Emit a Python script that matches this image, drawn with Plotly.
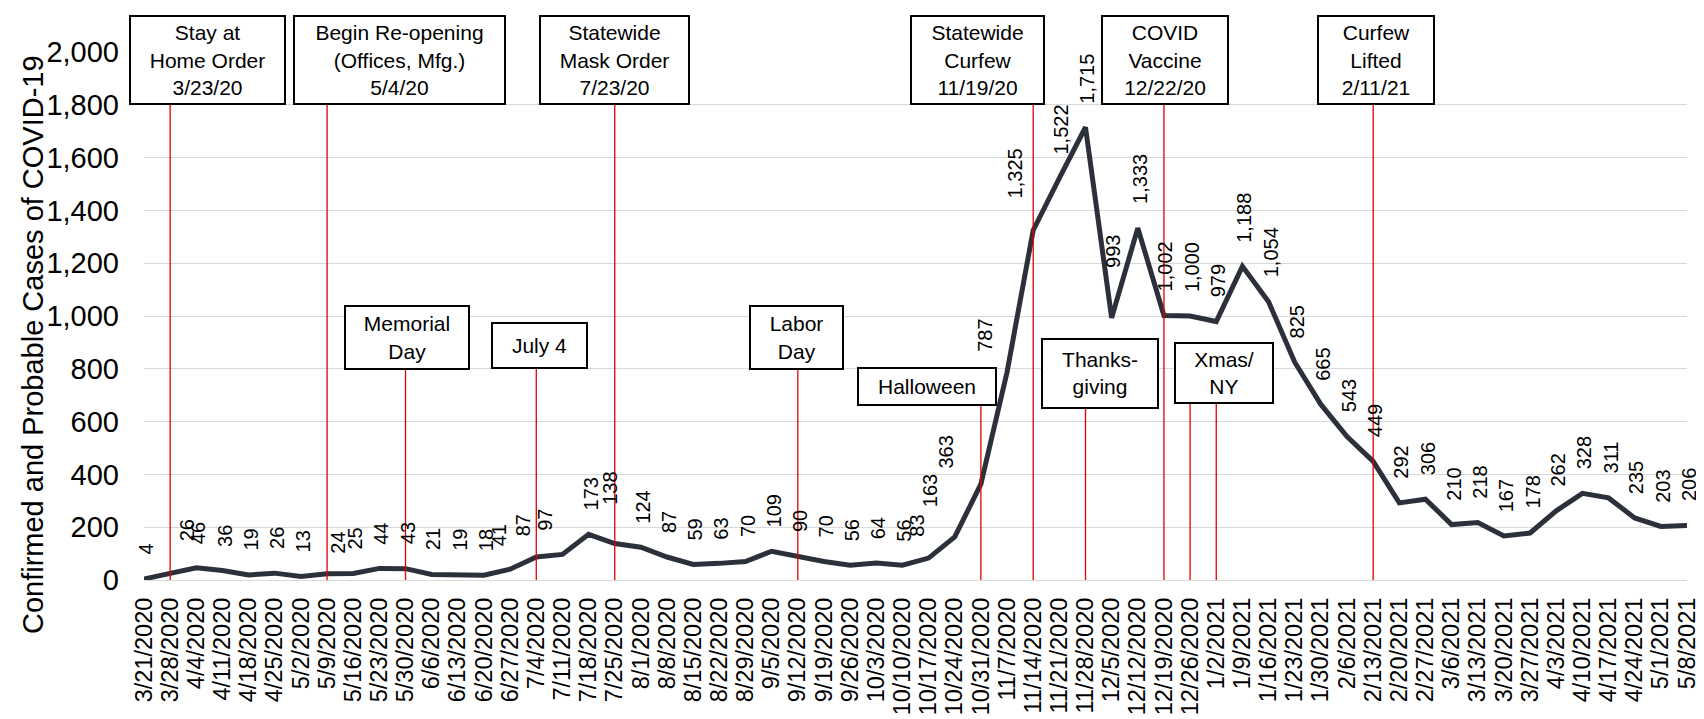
import plotly.graph_objects as go
import pandas as pd

# ---------------- data ----------------
WEEKS = ["3/21/2020", "3/28/2020", "4/4/2020", "4/11/2020", "4/18/2020", "4/25/2020",
         "5/2/2020", "5/9/2020", "5/16/2020", "5/23/2020", "5/30/2020", "6/6/2020",
         "6/13/2020", "6/20/2020", "6/27/2020", "7/4/2020", "7/11/2020", "7/18/2020",
         "7/25/2020", "8/1/2020", "8/8/2020", "8/15/2020", "8/22/2020", "8/29/2020",
         "9/5/2020", "9/12/2020", "9/19/2020", "9/26/2020", "10/3/2020", "10/10/2020",
         "10/17/2020", "10/24/2020", "10/31/2020", "11/7/2020", "11/14/2020", "11/21/2020",
         "11/28/2020", "12/5/2020", "12/12/2020", "12/19/2020", "12/26/2020", "1/2/2021",
         "1/9/2021", "1/16/2021", "1/23/2021", "1/30/2021", "2/6/2021", "2/13/2021",
         "2/20/2021", "2/27/2021", "3/6/2021", "3/13/2021", "3/20/2021", "3/27/2021",
         "4/3/2021", "4/10/2021", "4/17/2021", "4/24/2021", "5/1/2021", "5/8/2021"]

CASES = [4, 26, 46, 36, 19, 26, 13, 24, 25, 44, 43, 21, 19, 18, 41, 87, 97, 173,
         138, 124, 87, 59, 63, 70, 109, 90, 70, 56, 64, 56, 83, 163, 363, 787, 1325,
         1522, 1715, 993, 1333, 1002, 1000, 979, 1188, 1054, 825, 665, 543, 449, 292,
         306, 210, 218, 167, 178, 262, 328, 311, 235, 203, 206]

EVENT_TEXT = ["Stay at<br>Home Order<br>3/23/20",
              "Begin Re-opening<br>(Offices, Mfg.)<br>5/4/20",
              "Memorial<br>Day",
              "July 4",
              "Statewide<br>Mask Order<br>7/23/20",
              "Labor<br>Day",
              "Halloween",
              "Statewide<br>Curfew<br>11/19/20",
              "Thanks-<br>giving",
              "COVID<br>Vaccine<br>12/22/20",
              "Xmas/<br>NY",
              "Curfew<br>Lifted<br>2/11/21"]

EVENT_LINES = [["3/28/2020"], ["5/9/2020"], ["5/30/2020"], ["7/4/2020"], ["7/25/2020"],
               ["9/12/2020"], ["10/31/2020"], ["11/14/2020"], ["11/28/2020"],
               ["12/19/2020"], ["12/26/2020", "1/2/2021"], ["2/13/2021"]]

Y_TITLE = "Confirmed and Probable Cases of COVID-19"

# ---------------- style / layout ----------------
# box: (x shift from last event line in px, width px, top value, bottom value)
BOX_STYLE = [(37, 157, 2135, 1803), (72, 213, 2135, 1803), (1.5, 126, 1040, 800),
             (3, 97, 973, 800), (0, 151, 2135, 1803), (-1.5, 95, 1040, 800),
             (-54, 140, 804, 659), (-56, 135, 2135, 1803), (15, 118, 911, 651),
             (1, 128, 2135, 1803), (7.5, 100, 898, 671), (3.3, 118, 2135, 1803)]

LABEL_XSHIFT = {1: 15, 7: 9, 14: -13, 15: -15, 16: -19, 18: -7, 30: -13, 31: -26,
                32: -37, 33: -24, 34: -20}
LABEL_GAP = {1: 32, 7: 20, 14: 23, 15: 21, 18: 39, 30: 21, 31: 30, 32: 16, 33: 20,
             34: 32, 37: 50}

FONT = "Liberation Sans, Arial, sans-serif"
W, H = 1704, 719
ML, MR, MT, MB = 136, 21, 43.5, 133
Y_MAX = 2000

x_dates = pd.to_datetime(WEEKS, format="%m/%d/%Y")

fig = go.Figure()
fig.add_trace(go.Scatter(
    x=x_dates, y=CASES, mode="lines",
    line=dict(color="#2C303B", width=5),
    cliponaxis=False, hoverinfo="skip", showlegend=False))

annotations = []
shapes = []

# data labels
for i, (d, v) in enumerate(zip(x_dates, CASES)):
    annotations.append(dict(
        x=d, y=v, xref="x", yref="y", text=f"{v:,}", textangle=-90,
        showarrow=False, xanchor="center", yanchor="bottom",
        xshift=2 + LABEL_XSHIFT.get(i, 0), yshift=LABEL_GAP.get(i, 24) - 2,
        font=dict(family=FONT, size=20, color="#000000")))

# event boxes and lines
for text, lines, (dx, bw, top, bot) in zip(EVENT_TEXT, EVENT_LINES, BOX_STYLE):
    ld = pd.to_datetime(lines, format="%m/%d/%Y")
    for d in ld:
        shapes.append(dict(type="line", xref="x", yref="y", x0=d, x1=d, y0=0, y1=bot,
                           line=dict(color="#E00000", width=1.3), layer="above"))
    bh = (top - bot) / Y_MAX * (H - MT - MB)
    annotations.append(dict(
        x=ld[-1], y=(top + bot) / 2 / Y_MAX, xref="x", yref="paper",
        text=text, showarrow=False, xanchor="center", yanchor="middle",
        xshift=dx, width=bw - 4, height=bh - 4, align="center", valign="middle",
        bgcolor="#FFFFFF", bordercolor="#000000", borderwidth=2, borderpad=0,
        font=dict(family=FONT, size=21, color="#000000")))

# y-axis title
annotations.append(dict(
    x=0, y=0.445, xref="paper", yref="paper", text=Y_TITLE, textangle=-90,
    showarrow=False, xanchor="center", yanchor="middle", xshift=25 - ML,
    font=dict(family=FONT, size=29, color="#000000")))

fig.update_layout(
    width=W, height=H,
    margin=dict(l=ML, r=MR, t=MT, b=MB, pad=0),
    paper_bgcolor="#FFFFFF", plot_bgcolor="#FFFFFF",
    font=dict(family=FONT, color="#000000"),
    annotations=annotations, shapes=shapes,
    xaxis=dict(
        type="date", range=[x_dates[0], x_dates[-1]],
        tickmode="array", tickvals=x_dates, ticktext=WEEKS, tickangle=-90,
        tickfont=dict(family=FONT, size=23.5, color="#000000"),
        showgrid=False, zeroline=False, showline=False, ticks="",
        ticklabelstandoff=12),
    yaxis=dict(
        range=[0, Y_MAX], tickmode="linear", tick0=0, dtick=200, tickformat=",",
        tickfont=dict(family=FONT, size=29, color="#000000"),
        showgrid=True, gridcolor="#D9D9D9", gridwidth=1.3,
        zeroline=True, zerolinecolor="#D9D9D9", zerolinewidth=1.3,
        showline=False, ticks="", ticklabelstandoff=24),
)

fig.write_html("out.html")
